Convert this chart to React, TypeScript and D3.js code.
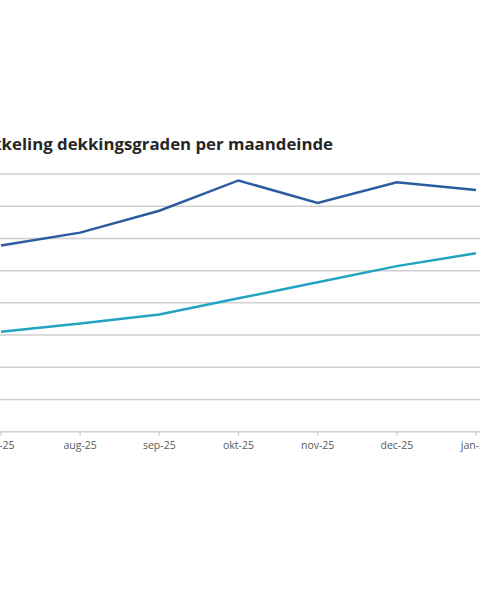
import { useEffect, useRef } from "react";
import * as d3 from "d3";

// maand-einde categorieën (links en rechts afgesneden in het origineel)
const months = ["jul-25", "aug-25", "sep-25", "okt-25", "nov-25", "dec-25", "jan-26"];
const seriesDark = [118.9, 120.9, 124.3, 129.0, 125.5, 128.7, 127.5];
const seriesLight = [105.5, 106.8, 108.2, 110.7, 113.2, 115.7, 117.7];
const yTicks = [90, 95, 100, 105, 110, 115, 120, 125, 130];
const title = "Ontwikkeling dekkingsgraden per maandeinde";

function App() {
    const svgRef = useRef<SVGSVGElement | null>(null);

    useEffect(() => {
        if (!svgRef.current) return;

        const width = 480;
        const height = 600;

        const svg = d3.select(svgRef.current).attr("width", width).attr("height", height);
        svg.selectAll("*").remove();

        const x = d3.scalePoint<string>().domain(months).range([1, 476]);
        const y = d3.scaleLinear().domain([90, 130]).range([431.7, 174]);

        // titel
        svg.append("text")
            .attr("x", 333)
            .attr("y", 150)
            .attr("text-anchor", "end")
            .attr("font-family", "'Open Sans', 'Liberation Sans', sans-serif")
            .attr("font-weight", 700)
            .attr("font-size", 16.8)
            .attr("fill", "#262626")
            .text(title);

        // horizontale rasterlijnen
        svg.append("g")
            .selectAll("line")
            .data(yTicks)
            .join("line")
            .attr("x1", -40)
            .attr("x2", width)
            .attr("y1", (d) => y(d))
            .attr("y2", (d) => y(d))
            .attr("stroke", "#cfcfcf")
            .attr("stroke-width", 1.5);

        // y-labels (vallen buiten beeld)
        svg.append("g")
            .selectAll("text")
            .data(yTicks)
            .join("text")
            .attr("x", -46)
            .attr("y", (d) => y(d) + 3)
            .attr("text-anchor", "end")
            .attr("font-size", 10)
            .attr("fill", "#595959")
            .text((d) => d + "%");

        // x-as tick marks
        svg.append("g")
            .selectAll("line")
            .data(months)
            .join("line")
            .attr("x1", (d) => x(d)!)
            .attr("x2", (d) => x(d)!)
            .attr("y1", y(90))
            .attr("y2", y(90) + 4)
            .attr("stroke", "#cfcfcf")
            .attr("stroke-width", 1.2);

        svg.append("g")
            .selectAll("text")
            .data(months)
            .join("text")
            .attr("x", (d) => x(d)!)
            .attr("y", 449)
            .attr("text-anchor", "middle")
            .attr("font-family", "'Open Sans', 'Liberation Sans', sans-serif")
            .attr("font-size", 10.5)
            .attr("fill", "#595959")
            .text((d) => d);

        const line = d3
            .line<number>()
            .x((_, i) => x(months[i])!)
            .y((d) => y(d));

        svg.append("path")
            .datum(seriesLight)
            .attr("d", line)
            .attr("fill", "none")
            .attr("stroke", "#22a3c1")
            .attr("stroke-width", 2.5);

        svg.append("path")
            .datum(seriesDark)
            .attr("d", line)
            .attr("fill", "none")
            .attr("stroke", "#2a5c9f")
            .attr("stroke-width", 2.5);
    }, []);

    return (
        <div style={{ position: "absolute", left: 0, top: 0 }}>
            <svg ref={svgRef} style={{ display: "block" }}></svg>
        </div>
    );
}

export default App;
